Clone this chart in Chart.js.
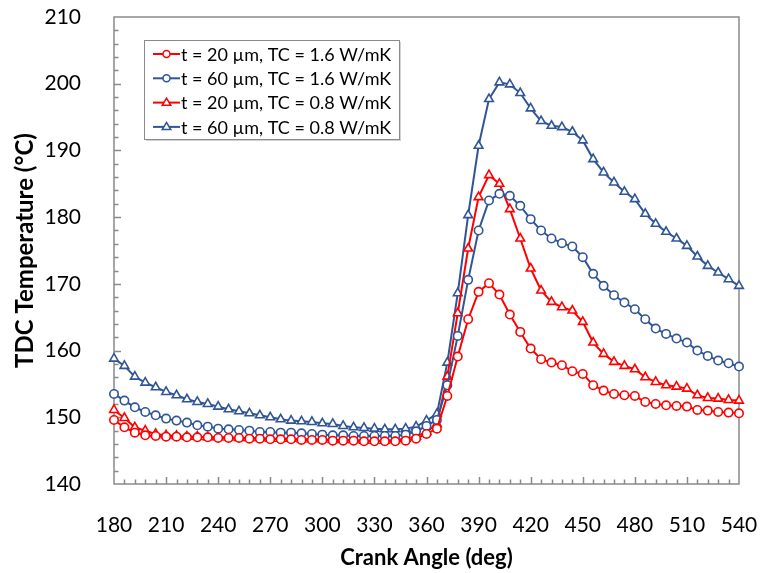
<!DOCTYPE html>
<html>
<head>
<meta charset="utf-8">
<title>TDC Temperature vs Crank Angle</title>
<script src="https://cdn.jsdelivr.net/npm/chart.js@4.4.1/dist/chart.umd.min.js"></script>
<style>
  html, body { margin: 0; padding: 0; background: #fff; }
  #wrap { width: 762px; height: 573px; position: relative; }
</style>
</head>
<body>
<div id="wrap"><canvas id="tdcChart" width="762" height="573"></canvas></div>
<script>
// crank angle samples (deg)
const crankAngles = [
  180, 186, 192, 198, 204, 210, 216, 222, 228, 234, 240, 246, 252, 258, 264, 270,
  276, 282, 288, 294, 300, 306, 312, 318, 324, 330, 336, 342, 348, 354, 360, 366,
  372, 378, 384, 390, 396, 402, 408, 414, 420, 426, 432, 438, 444, 450, 456, 462,
  468, 474, 480, 486, 492, 498, 504, 510, 516, 522, 528, 534, 540
];

// TDC temperature (°C) per coating case
const t20tc16 = [
  149.6, 148.5, 147.7, 147.3, 147.2, 147.1, 147.1, 147.0, 147.0, 147.0, 146.9, 146.9, 146.9, 146.8, 146.8, 146.7,
  146.7, 146.7, 146.6, 146.6, 146.6, 146.5, 146.5, 146.5, 146.4, 146.4, 146.4, 146.4, 146.5, 146.8, 147.5, 148.3,
  153.2, 159.1, 164.7, 168.8, 170.1, 168.4, 165.4, 162.8, 160.3, 158.7, 158.2, 157.8, 156.9, 156.5, 154.8, 154.0,
  153.5, 153.3, 153.2, 152.3, 152.0, 151.8, 151.7, 151.6, 151.1, 151.0, 150.8, 150.7, 150.6
];
const t60tc16 = [
  153.5, 152.5, 151.5, 150.8, 150.3, 149.8, 149.5, 149.2, 148.8, 148.6, 148.3, 148.2, 148.1, 148.0, 147.8, 147.8,
  147.7, 147.7, 147.6, 147.5, 147.4, 147.3, 147.3, 147.2, 147.2, 147.2, 147.2, 147.2, 147.4, 147.9, 148.7, 149.6,
  154.8, 162.2, 170.6, 178.0, 182.5, 183.5, 183.2, 181.7, 179.7, 178.0, 176.8, 176.1, 175.6, 174.0, 171.5, 169.7,
  168.3, 167.2, 166.2, 164.7, 163.3, 162.5, 161.8, 161.2, 160.0, 159.2, 158.5, 158.1, 157.6
];
const t20tc08 = [
  151.1, 149.9, 148.5, 148.0, 147.5, 147.3, 147.2, 147.1, 147.1, 147.0, 147.0, 147.0, 146.9, 146.9, 146.9, 146.8,
  146.8, 146.8, 146.7, 146.7, 146.7, 146.6, 146.6, 146.6, 146.5, 146.5, 146.5, 146.6, 146.8, 147.1, 147.8, 149.0,
  156.1, 165.6, 175.3, 183.0, 186.3, 185.0, 181.2, 176.8, 172.3, 169.0, 167.3, 166.5, 166.0, 164.3, 161.2, 159.5,
  158.3, 157.7, 157.2, 156.0, 155.3, 154.8, 154.6, 154.3, 153.3, 152.9, 152.8, 152.6, 152.5
];
const t60tc08 = [
  158.8, 157.7, 156.1, 155.2, 154.5, 153.8, 153.3, 152.7, 152.3, 152.0, 151.6, 151.2, 150.9, 150.6, 150.3, 150.0,
  149.7, 149.5, 149.4, 149.3, 149.1, 149.0, 148.7, 148.5, 148.4, 148.3, 148.2, 148.2, 148.3, 148.6, 149.5, 150.5,
  158.2, 168.6, 180.3, 190.7, 197.7, 200.2, 199.9, 198.6, 196.3, 194.4, 193.7, 193.5, 192.8, 191.5, 188.7, 186.7,
  185.2, 183.8, 182.7, 180.5, 179.0, 177.8, 176.8, 175.7, 174.1, 172.7, 171.7, 170.7, 169.7
];

const seriesLabels = [
  't = 20 µm, TC = 1.6 W/mK',
  't = 60 µm, TC = 1.6 W/mK',
  't = 20 µm, TC = 0.8 W/mK',
  't = 60 µm, TC = 0.8 W/mK'
];

const RED = '#FF0000';
const BLUE = '#2F5597';
const FRAME = '#8A8A8A';
const FONT = 'Lato, "Open Sans", sans-serif';

function toPoints(values) {
  return values.map((v, i) => ({ x: crankAngles[i], y: v }));
}

function makeSet(label, values, color, style) {
  return {
    label: label,
    data: toPoints(values),
    borderColor: color,
    backgroundColor: color,
    borderWidth: 2,
    pointStyle: style,
    pointRadius: style === 'triangle' ? 5 : 4.2,
    pointBorderWidth: 1.6,
    pointBorderColor: color,
    pointBackgroundColor: '#fff',
    tension: 0,
    clip: false
  };
}

// draws the grey box round the plot plus inward major/minor tick marks
const frameTicks = {
  id: 'frameTicks',
  beforeDatasetsDraw(chart) {
    const { ctx, chartArea: a, scales } = chart;
    ctx.save();
    ctx.strokeStyle = FRAME;
    ctx.lineWidth = 1.5;
    ctx.strokeRect(a.left, a.top, a.right - a.left, a.bottom - a.top);
    ctx.beginPath();
    for (let v = 186; v < 540; v += 6) {
      const px = Math.round(scales.x.getPixelForValue(v)) + 0.5;
      const len = (v - 180) % 30 === 0 ? 7 : 4.5;
      ctx.moveTo(px, a.bottom);
      ctx.lineTo(px, a.bottom - len);
    }
    for (let v = 142; v < 210; v += 2) {
      const py = Math.round(scales.y.getPixelForValue(v)) + 0.5;
      const len = (v - 140) % 10 === 0 ? 7 : 4.5;
      ctx.moveTo(a.left, py);
      ctx.lineTo(a.left + len, py);
    }
    ctx.stroke();
    ctx.restore();
  }
};

function drawMarker(ctx, style, x, y, r) {
  ctx.beginPath();
  if (style === 'triangle') {
    ctx.moveTo(x, y - r);
    ctx.lineTo(x + r * 0.95, y + r * 0.6);
    ctx.lineTo(x - r * 0.95, y + r * 0.6);
    ctx.closePath();
  } else {
    ctx.arc(x, y, r, 0, Math.PI * 2);
  }
  ctx.fill();
  ctx.stroke();
}

// boxed legend sitting inside the plot, upper left
const boxLegend = {
  id: 'boxLegend',
  afterDraw(chart) {
    const { ctx } = chart;
    const bx = 144, by = 40, bw = 255, bh = 99;
    ctx.save();
    ctx.fillStyle = 'rgba(0,0,0,0.18)';
    ctx.fillRect(bx + 2, by + 2, bw, bh);
    ctx.fillStyle = '#fff';
    ctx.fillRect(bx, by, bw, bh);
    ctx.strokeStyle = FRAME;
    ctx.lineWidth = 1;
    ctx.strokeRect(bx + 0.5, by + 0.5, bw, bh);
    ctx.font = '18px ' + FONT;
    ctx.textBaseline = 'middle';
    chart.data.datasets.forEach((ds, i) => {
      const cy = by + 14 + i * 24.3;
      ctx.strokeStyle = ds.borderColor;
      ctx.lineWidth = 2;
      ctx.beginPath();
      ctx.moveTo(bx + 9, cy);
      ctx.lineTo(bx + 36, cy);
      ctx.stroke();
      ctx.fillStyle = '#fff';
      ctx.lineWidth = 1.5;
      drawMarker(ctx, ds.pointStyle, bx + 22.5, cy, ds.pointStyle === 'triangle' ? 4.5 : 3.5);
      ctx.fillStyle = '#000';
      ctx.fillText(ds.label, bx + 37, cy + 1);
    });
    ctx.restore();
  }
};

new Chart(document.getElementById('tdcChart').getContext('2d'), {
  type: 'line',
  data: {
    datasets: [
      makeSet(seriesLabels[0], t20tc16, RED, 'circle'),
      makeSet(seriesLabels[1], t60tc16, BLUE, 'circle'),
      makeSet(seriesLabels[2], t20tc08, RED, 'triangle'),
      makeSet(seriesLabels[3], t60tc08, BLUE, 'triangle')
    ]
  },
  options: {
    responsive: false,
    animation: false,
    layout: { padding: { top: 17, right: 23, left: 0, bottom: 0 } },
    plugins: {
      legend: { display: false },
      tooltip: { enabled: false }
    },
    scales: {
      x: {
        type: 'linear',
        min: 180,
        max: 540,
        grid: { display: false },
        border: { display: false },
        ticks: { stepSize: 30, padding: 21, color: '#000', font: { family: FONT, size: 21 } },
        title: {
          display: true,
          text: 'Crank Angle (deg)',
          color: '#000',
          font: { family: FONT, size: 22, weight: 'bold' },
          padding: { top: 0, bottom: 2 }
        },
        afterFit(scale) {
          scale.height = 89;
          scale.paddingLeft = 0;
          scale.paddingRight = 0;
        }
      },
      y: {
        min: 140,
        max: 210,
        grid: { display: false },
        border: { display: false },
        ticks: { stepSize: 10, padding: 25, color: '#000', font: { family: FONT, size: 21 } },
        title: {
          display: true,
          text: 'TDC Temperature (°C)',
          color: '#000',
          font: { family: FONT, size: 24, weight: 'bold' },
          padding: { top: 11, bottom: 0 }
        },
        afterFit(scale) {
          scale.width = 114;
          scale.paddingTop = 0;
          scale.paddingBottom = 0;
        }
      }
    }
  },
  plugins: [frameTicks, boxLegend]
});
</script>
</body>
</html>
